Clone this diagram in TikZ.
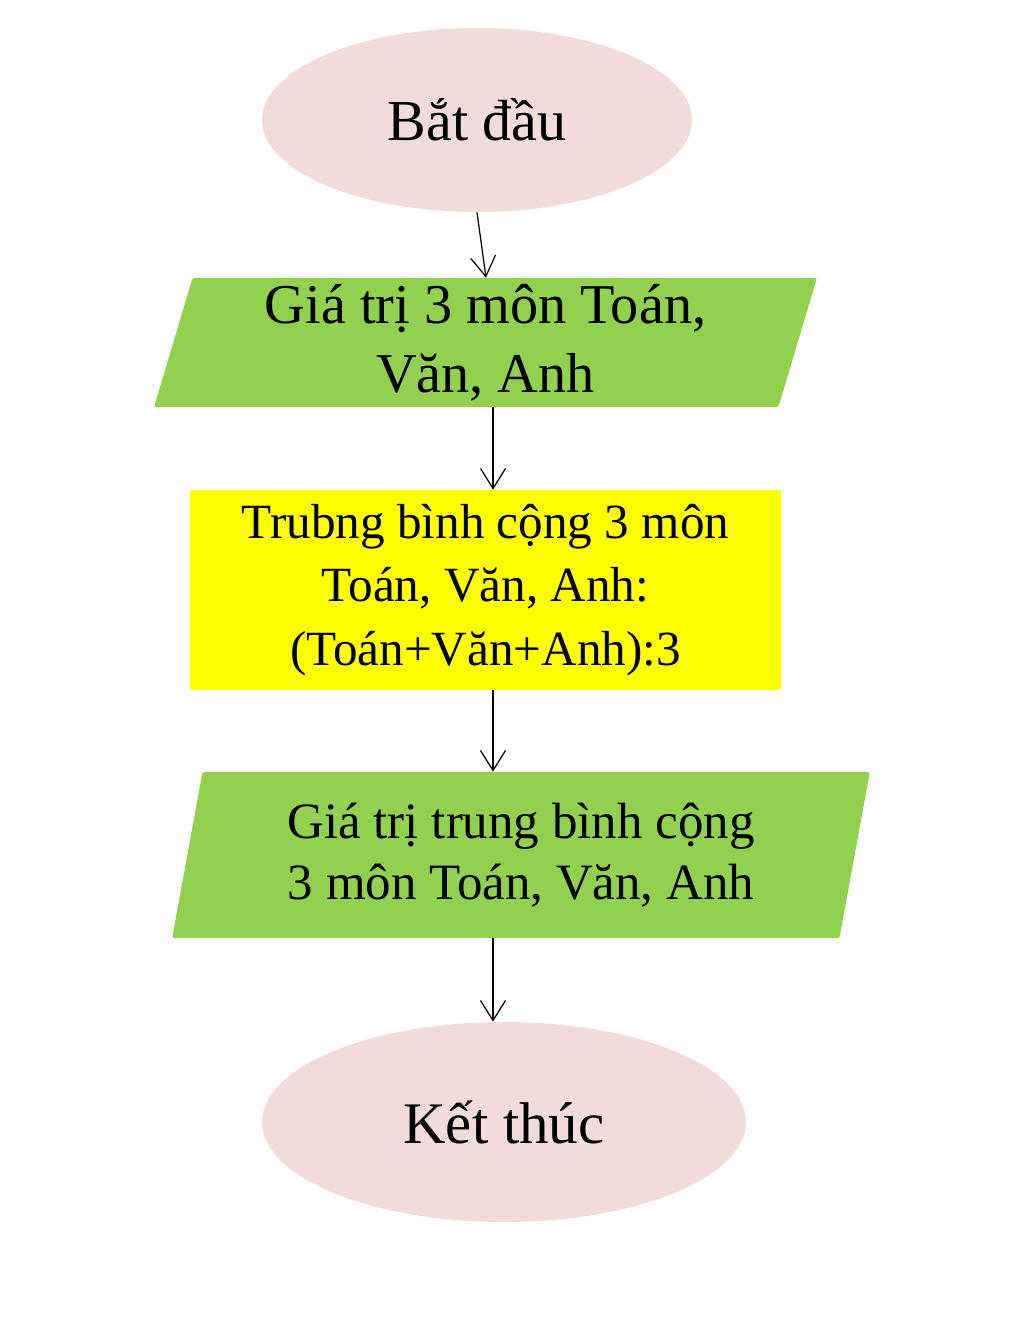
\documentclass[tikz,border=0pt]{standalone}
\usepackage{fontspec}
\setmainfont{Liberation Serif}
\usetikzlibrary{shapes.geometric,arrows.meta}
\definecolor{startpink}{HTML}{F2DCDB}
\definecolor{iogreen}{HTML}{92D050}
\definecolor{procyellow}{HTML}{FFFF00}
\begin{document}
\begin{tikzpicture}[
	terminal/.style={ellipse, fill=startpink, inner sep=0pt},
	iobox/.style={trapezium, trapezium stretches=true, fill=iogreen, rounded corners=1pt, align=center, inner sep=0pt},
	procbox/.style={rectangle, fill=procyellow, rounded corners=1.5pt, align=center, inner sep=0pt},
	arr/.style={-{Straight Barb[length=4mm,width=5mm]}, line width=0.7pt}]

	\useasboundingbox (0,0) rectangle (20.48,-26.52);

	\node[terminal, minimum width=8.6cm, minimum height=3.68cm, font=\fontsize{33}{40}\selectfont] (start) at (9.54,-2.40) {Bắt đầu};
	\node[iobox, trapezium left angle=76, trapezium right angle=104, minimum width=13.3cm, minimum height=2.58cm, font=\fontsize{32}{39}\selectfont] (in1) at (9.71,-6.85) {Giá trị 3 môn Toán,\\Văn, Anh};
	\node[procbox, minimum width=11.82cm, minimum height=4cm, font=\fontsize{28}{36}\selectfont] (calc) at (9.71,-11.80) {Trubng bình cộng 3 môn\\Toán, Văn, Anh:\\(Toán+Văn+Anh):3};
	\node[iobox, trapezium left angle=78, trapezium right angle=102, minimum width=13.96cm, minimum height=3.32cm, font=\fontsize{29}{35}\selectfont] (out1) at (10.42,-17.10) {Giá trị trung bình cộng\\3 môn Toán, Văn, Anh};
	\node[terminal, minimum width=9.68cm, minimum height=4cm, font=\fontsize{33.5}{40}\selectfont] (end) at (10.08,-22.44) {Kết thúc};

	\coordinate (axis) at (9.86,0);
	\coordinate (tip1) at (9.72,0);

	\draw[arr] (start.south) -- (in1.north -| tip1);
	\draw[arr] (in1.south -| axis) -- (calc.north -| axis);
	\draw[arr] (calc.south -| axis) -- (out1.north -| axis);
	\draw[arr] (out1.south -| axis) -- (end.north -| axis);
\end{tikzpicture}
\end{document}
